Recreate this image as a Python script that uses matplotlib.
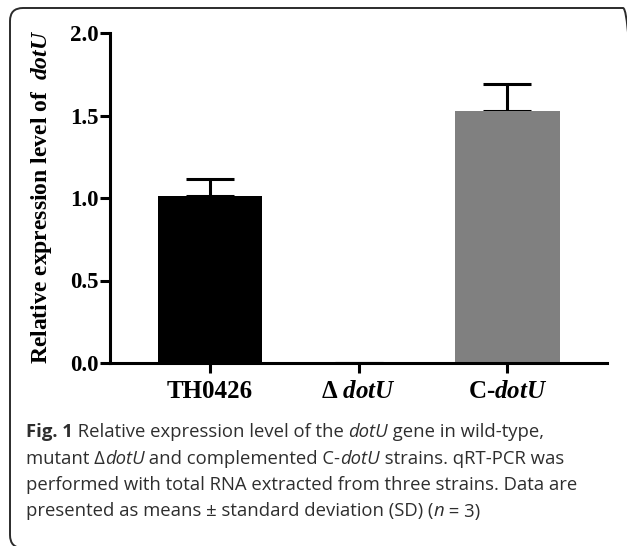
import matplotlib
matplotlib.use("Agg")
import matplotlib.pyplot as plt
from matplotlib.patches import FancyBboxPatch
from matplotlib.transforms import IdentityTransform

# data
strains = ["TH0426", r"$\Delta$ $dotU$", r"C-$dotU$"]
expression = [1.015, 0.0, 1.525]
sd = [0.10, 0.0, 0.165]
bar_colors = ["#000000", "#000000", "#808080"]
yticks = [0.0, 0.5, 1.0, 1.5, 2.0]

caption_lines = [
    [("Fig. 1", "bold"), (" Relative expression level of the ", "normal"),
     ("dotU", "italic"), (" gene in wild-type,", "normal")],
    [("mutant \u0394", "normal"), ("dotU", "italic"), (" and complemented C-", "normal"),
     ("dotU", "italic"), (" strains. qRT-PCR was", "normal")],
    [("performed with total RNA extracted from three strains. Data are", "normal")],
    [("presented as means \u00b1 standard deviation (SD) (", "normal"), ("n", "italic"),
     (" = 3)", "normal")],
]

plt.rcParams['mathtext.fontset'] = 'custom'
plt.rcParams['mathtext.rm'] = 'Liberation Serif:bold'
plt.rcParams['mathtext.bf'] = 'Liberation Serif:bold'
plt.rcParams['mathtext.it'] = 'Liberation Serif:italic:bold'

W, H = 627, 546
fig = plt.figure(figsize=(W / 100, H / 100), dpi=100)
ax = fig.add_axes([110 / W, 1 - 363 / H, 497 / W, 330 / H])

x = range(len(strains))
ax.bar(x, expression, width=0.70, color=bar_colors, zorder=2)
ax.errorbar(x, expression, yerr=[[0] * len(sd), sd], fmt='none', ecolor='black',
            elinewidth=2.2, capsize=17, capthick=2.2, zorder=1)

ax.set_xlim(-0.672, 2.669)
ax.set_ylim(0, 2.0)
ax.set_yticks(yticks)
ax.set_yticklabels([f"{v:.1f}" for v in yticks], fontfamily='Liberation Serif',
                   fontweight='bold', fontsize=16.5)
ax.set_xticks(list(x))
ax.set_xticklabels(strains, fontfamily='Liberation Serif', fontweight='bold', fontsize=18)
ax.tick_params(axis='y', length=7, width=2.2, pad=1.5)
ax.tick_params(axis='x', length=7, width=2.2, pad=5)

for s in ['top', 'right']:
    ax.spines[s].set_visible(False)
for s in ['left', 'bottom']:
    ax.spines[s].set_linewidth(2.2)

fig.text(42 / W, 1 - 197 / H, r"Relative expression level of  $dotU$", rotation=90,
         ha='center', va='center', fontfamily='Liberation Serif', fontweight='bold',
         fontsize=17)

# outer rounded frame (pixel coords), right and bottom run past the canvas
frame = FancyBboxPatch((10, H - 548), 626, 540, boxstyle="round,pad=0,rounding_size=13",
                       transform=IdentityTransform(), facecolor='none',
                       edgecolor='#2b2b2b', linewidth=1.4)
fig.patches.append(frame)

# caption drawn piece by piece so bold / italic can be mixed
renderer = fig.canvas.get_renderer()
cap_color = '#2e2e2e'
cap_size = 13.3


def piece_width(txt, style):
    kw = dict(fontfamily='Open Sans', fontsize=cap_size)
    if style == 'bold':
        kw['fontweight'] = 'bold'
    elif style == 'italic':
        kw['fontstyle'] = 'italic'
    t1 = fig.text(0, 0, txt + "|", **kw)
    t2 = fig.text(0, 0, "|", **kw)
    w = t1.get_window_extent(renderer).width - t2.get_window_extent(renderer).width
    t1.remove()
    t2.remove()
    return w, kw


baselines = [437, 463.5, 490, 516.5]
for line, yb in zip(caption_lines, baselines):
    xp = 26
    for txt, style in line:
        w, kw = piece_width(txt, style)
        fig.text(xp / W, 1 - yb / H, txt, va='baseline', ha='left', color=cap_color, **kw)
        xp += w

fig.savefig('out.png', dpi=100)
